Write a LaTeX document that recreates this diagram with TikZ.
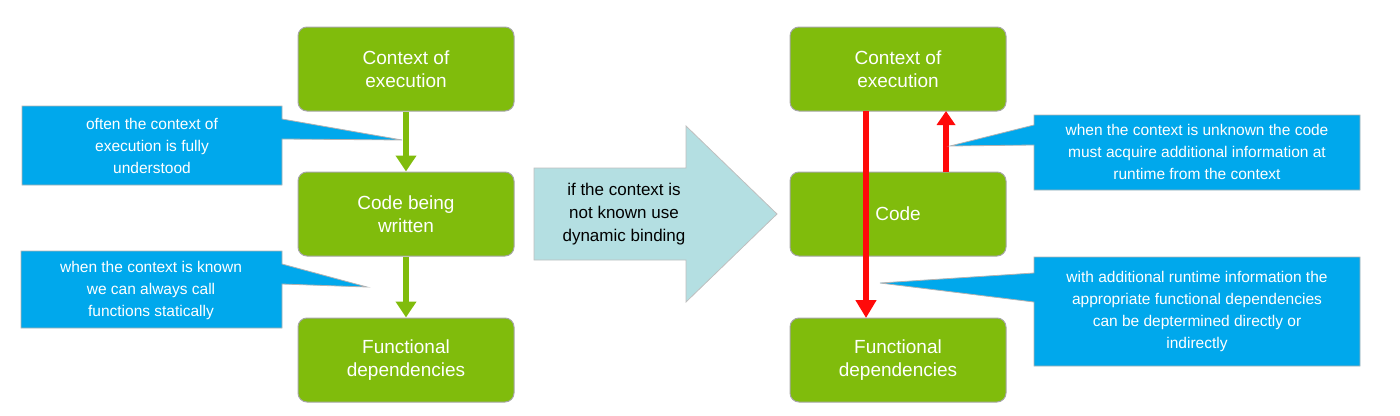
\documentclass[tikz,border=0pt]{standalone}
\usepackage{fontspec}
\setmainfont{Liberation Sans}
\usetikzlibrary{arrows.meta}
\definecolor{gr}{HTML}{80BC0C}
\definecolor{bl}{HTML}{00A8EC}
\definecolor{tl}{HTML}{B4DFE2}
\definecolor{rd}{HTML}{FF0A0A}
\begin{document}
\begin{tikzpicture}[x=1pt,y=-1pt,
 gbox/.style={draw=gray!70,line width=1pt,fill=gr,rounded corners=9pt,minimum width=216pt,minimum height=84pt,text=white,font=\fontsize{19}{23}\selectfont,align=center,inner sep=0pt},
 ctext/.style={text=white,font=\fontsize{15.5}{22}\selectfont,align=center},
 cfill/.style={fill=bl,draw=gray!60,line width=0.8pt}]
\useasboundingbox (0,0) rectangle (1400,415);
% left
\node[gbox] (l1) at (406,69) {Context of\\execution};
\node[gbox] (l2) at (406,214) {Code being\\written};
\node[gbox] (l3) at (406,360) {Functional\\dependencies};
\draw[gr,line width=6pt,-{Triangle[length=16pt,width=20pt]}] (l1.south) -- (l2.north);
\draw[gr,line width=6pt,-{Triangle[length=16pt,width=20pt]}] (l2.south) -- (l3.north);
\draw[cfill] (22,106) -- (282,106) -- (282,119) -- (402,140) -- (282,139) -- (282,185) -- (22,185) -- cycle;
\node[ctext] (c1) at (152,146) {often the context of\\execution is fully\\understood};
\draw[cfill] (21,251) -- (282,251) -- (282,264) -- (367,287) -- (282,284) -- (282,328) -- (21,328) -- cycle;
\node[ctext] (c2) at (151,290) {when the context is known\\we can always call\\functions statically};
% big arrow
\draw[fill=tl,draw=gray!50,line width=0.8pt] (534,168) -- (686,168) -- (686,126) -- (777,214) -- (686,302) -- (686,260) -- (534,260) -- cycle;
\node[font=\fontsize{17}{23}\selectfont,align=center] (mid) at (624,214) {if the context is\\not known use\\dynamic binding};
% right
\node[gbox] (r1) at (898,69) {Context of\\execution};
\node[gbox] (r2) at (898,214) {Code};
\node[gbox] (r3) at (898,360) {Functional\\dependencies};
\coordinate (dtop) at (866,111);
\coordinate (dbot) at (866,318);
\coordinate (utop) at (946,111);
\coordinate (ubot) at (946,172);
\draw[rd,line width=6pt,-{Triangle[length=18pt,width=20pt]}] (dtop) -- (dbot);
\draw[rd,line width=6pt,-{Triangle[length=14pt,width=18pt]}] (ubot) -- (utop);
\draw[cfill] (1034,115) -- (1360,115) -- (1360,190) -- (1034,190) -- (1034,145) -- (950,146) -- (1034,125) -- cycle;
\node[ctext] (c3) at (1197,152) {when the context is unknown the code\\must acquire additional information at\\runtime from the context};
\draw[cfill] (1034,257) -- (1360,257) -- (1360,366) -- (1034,366) -- (1034,302) -- (880,283) -- (1034,273) -- cycle;
\node[ctext] (c4) at (1197,311) {with additional runtime information the\\appropriate functional dependencies\\can be deptermined directly or\\indirectly};
\end{tikzpicture}
\end{document}
